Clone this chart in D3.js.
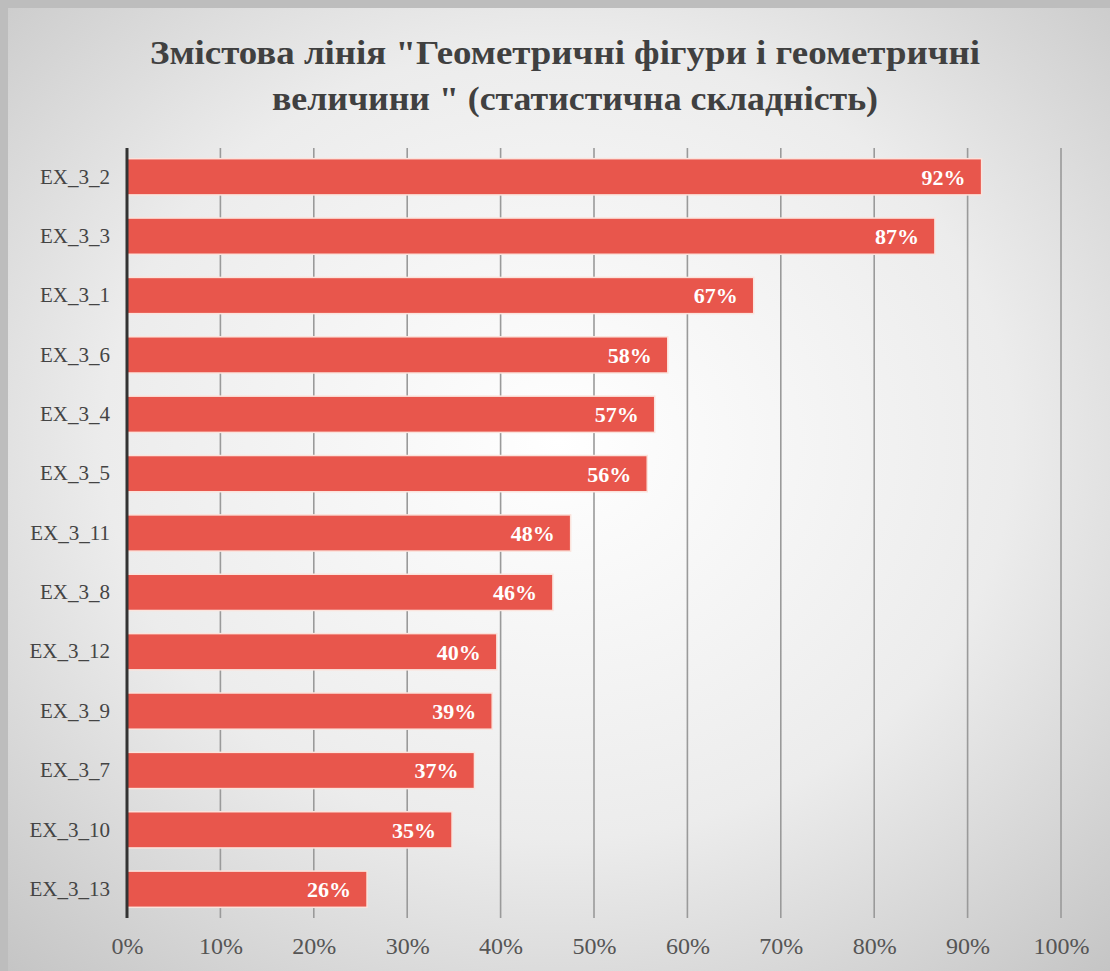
<!DOCTYPE html>
<html>
<head>
<meta charset="utf-8">
<script src="https://cdn.jsdelivr.net/npm/d3@7"></script>
<style>
  html, body { margin: 0; padding: 0; background: #fff; }
  svg { display: block; }
</style>
</head>
<body>
<div class="chart"></div>
<script>
const width = 1110;
const height = 971;
const margin = { top: 148, right: 49, bottom: 53, left: 127 };

const categories = ["EX_3_2", "EX_3_3", "EX_3_1", "EX_3_6", "EX_3_4", "EX_3_5", "EX_3_11",
  "EX_3_8", "EX_3_12", "EX_3_9", "EX_3_7", "EX_3_10", "EX_3_13"];
const values = [91.5, 86.5, 67.1, 57.9, 56.5, 55.7, 47.5, 45.6, 39.6, 39.1, 37.2, 34.8, 25.7];
const ticks = [0, 10, 20, 30, 40, 50, 60, 70, 80, 90, 100];
const titleLines = ["Змістова лінія \"Геометричні фігури і геометричні", "величини \" (статистична складність)"];
const titleWidths = [830, 606];

const data = categories.map((c, i) => ({ name: c, value: values[i] }));
const serif = "'Liberation Serif', 'Times New Roman', serif";

const svg = d3.select(".chart")
  .append("svg")
  .attr("width", width)
  .attr("height", height);

// background: soft radial gradient, white middle, grey corners
const defs = svg.append("defs");
const grad = defs.append("radialGradient")
  .attr("id", "bg")
  .attr("cx", "50%").attr("cy", "45%").attr("r", "75%");
grad.append("stop").attr("offset", "0%").attr("stop-color", "#ffffff");
grad.append("stop").attr("offset", "55%").attr("stop-color", "#ececec");
grad.append("stop").attr("offset", "100%").attr("stop-color", "#c4c4c4");

svg.append("rect")
  .attr("width", width).attr("height", height)
  .attr("fill", "#bdbdbd");
svg.append("rect")
  .attr("x", 8).attr("y", 8)
  .attr("width", width - 8).attr("height", height - 8)
  .attr("fill", "url(#bg)");

const x = d3.scaleLinear()
  .domain([0, 100])
  .range([margin.left, width - margin.right]);

const y = d3.scaleBand()
  .domain(categories)
  .range([margin.top, height - margin.bottom])
  .paddingInner(0.39)
  .paddingOuter(0.18);

// gridlines
svg.append("g")
  .selectAll("line")
  .data(ticks.slice(1))
  .enter()
  .append("line")
  .attr("x1", d => x(d)).attr("x2", d => x(d))
  .attr("y1", margin.top).attr("y2", height - margin.bottom)
  .attr("stroke", "#9a9a9a")
  .attr("stroke-width", 1.6);

// bars
svg.append("g")
  .selectAll("rect")
  .data(data)
  .enter()
  .append("rect")
  .attr("x", x(0))
  .attr("y", d => y(d.name))
  .attr("width", d => x(d.value) - x(0))
  .attr("height", y.bandwidth())
  .attr("fill", "#e8564c")
  .attr("stroke", "#fbe3dc")
  .attr("stroke-width", 1.5);

// value labels
svg.append("g")
  .selectAll("text")
  .data(data)
  .enter()
  .append("text")
  .attr("x", d => x(d.value) - 16)
  .attr("y", d => y(d.name) + y.bandwidth() / 2)
  .attr("dy", "0.36em")
  .attr("text-anchor", "end")
  .attr("font-family", serif)
  .attr("font-weight", "bold")
  .attr("font-size", 22)
  .attr("fill", "#ffffff")
  .text(d => Math.round(d.value) + "%");

// y axis
const yAxis = d3.axisLeft(y).tickSize(0).tickPadding(17);
const yg = svg.append("g")
  .attr("transform", `translate(${x(0)},0)`)
  .call(yAxis);
yg.select(".domain")
  .attr("stroke", "#333")
  .attr("stroke-width", 3)
  .attr("d", `M0,${margin.top}V${height - margin.bottom}`);
yg.selectAll("text")
  .attr("font-family", serif)
  .attr("font-size", 21)
  .attr("fill", "#444");

// x axis labels
const xAxis = d3.axisBottom(x)
  .tickValues(ticks)
  .tickFormat(d => d + "%")
  .tickSize(0)
  .tickPadding(19);
const xg = svg.append("g")
  .attr("transform", `translate(0,${height - margin.bottom})`)
  .call(xAxis);
xg.select(".domain").remove();
xg.selectAll("text")
  .attr("font-family", serif)
  .attr("font-size", 24)
  .attr("fill", "#555");

// title
svg.append("text")
  .attr("text-anchor", "middle")
  .attr("font-family", serif)
  .attr("font-weight", "bold")
  .attr("font-size", 33)
  .attr("fill", "#404040")
  .selectAll("tspan")
  .data(titleLines)
  .enter()
  .append("tspan")
  .attr("x", (d, i) => i === 0 ? 565 : 575)
  .attr("y", (d, i) => 64 + i * 46)
  .attr("textLength", (d, i) => titleWidths[i])
  .attr("lengthAdjust", "spacingAndGlyphs")
  .text(d => d);
</script>
</body>
</html>
